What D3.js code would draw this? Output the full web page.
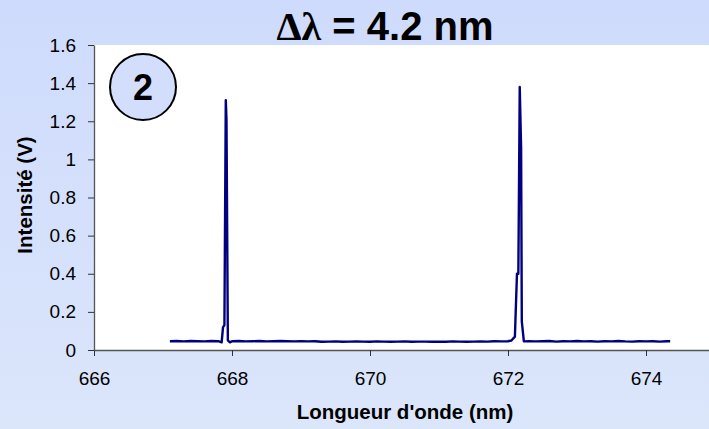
<!DOCTYPE html>
<html>
<head>
<meta charset="utf-8">
<script src="https://cdn.jsdelivr.net/npm/d3@7"></script>
<style>
  html, body { margin: 0; padding: 0; }
  body { width: 709px; height: 429px; overflow: hidden; }
  svg { display: block; font-family: "Liberation Sans", Arial, sans-serif; }
</style>
</head>
<body>
<svg id="chart" width="709" height="429"></svg>
<script>
// Spectrum: wavelength (nm) and intensity (V)
const wavelength = [
  667.10, 667.20, 667.30, 667.40, 667.50, 667.60, 667.70, 667.80,
  667.85, 667.87, 667.89, 667.91, 667.92, 667.94, 667.97,
  668.00, 668.10, 668.20, 668.30, 668.40, 668.50, 668.60, 668.70, 668.80, 668.90,
  669.00, 669.10, 669.20, 669.30, 669.40, 669.50, 669.60, 669.70, 669.80, 669.90,
  670.00, 670.10, 670.20, 670.30, 670.40, 670.50, 670.60, 670.70, 670.80, 670.90,
  671.00, 671.10, 671.20, 671.30, 671.40, 671.50, 671.60, 671.70, 671.80, 671.90,
  672.00, 672.05, 672.10, 672.13, 672.15, 672.17, 672.19, 672.20, 672.23,
  672.30, 672.40, 672.50, 672.60, 672.70, 672.80, 672.90,
  673.00, 673.10, 673.20, 673.30, 673.40, 673.50, 673.60, 673.70, 673.80, 673.90,
  674.00, 674.10, 674.20, 674.30, 674.35
];
const intensity = [
  0.046, 0.047, 0.045, 0.047, 0.046, 0.045, 0.047, 0.046,
  0.040, 0.120, 0.130, 1.310, 1.210, 0.050, 0.040,
  0.046, 0.047, 0.045, 0.046, 0.047, 0.045, 0.046, 0.047, 0.046, 0.045,
  0.046, 0.045, 0.046, 0.043, 0.044, 0.045, 0.043, 0.044, 0.045, 0.044,
  0.043, 0.045, 0.044, 0.043, 0.044, 0.045, 0.043, 0.044, 0.044, 0.043,
  0.044, 0.043, 0.045, 0.044, 0.043, 0.044, 0.045, 0.044, 0.046, 0.045,
  0.046, 0.050, 0.070, 0.400, 0.400, 1.380, 1.060, 0.150, 0.045,
  0.046, 0.045, 0.046, 0.047, 0.044, 0.046, 0.045,
  0.047, 0.045, 0.046, 0.044, 0.046, 0.045, 0.047, 0.045, 0.044, 0.046,
  0.045, 0.046, 0.044, 0.046, 0.046
];
const xTicks = [666, 668, 670, 672, 674];
const yTicks = [0, 0.2, 0.4, 0.6, 0.8, 1, 1.2, 1.4, 1.6];

const svg = d3.select('#chart');
const width = 709, height = 429;
const margin = { top: 45, left: 94, bottom: 79 };

// background gradient
const defs = svg.append('defs');
const grad = defs.append('linearGradient')
  .attr('id', 'bg').attr('x1', 0).attr('y1', 0).attr('x2', 0).attr('y2', 1);
grad.append('stop').attr('offset', '0%').attr('stop-color', '#cedbfc');
grad.append('stop').attr('offset', '100%').attr('stop-color', '#dbe6fb');
svg.append('rect').attr('width', width).attr('height', height).attr('fill', 'url(#bg)');

const xScale = d3.scaleLinear().domain([666, 676]).range([margin.left, margin.left + 690]);
const yScale = d3.scaleLinear().domain([0, 1.6]).range([height - margin.bottom, margin.top]);

// plot area
svg.append('rect')
  .attr('x', margin.left).attr('y', margin.top)
  .attr('width', width - margin.left).attr('height', yScale(0) - margin.top)
  .attr('fill', '#ffffff');

// spectrum line
const pts = wavelength.map((w, i) => [w, intensity[i]]);
svg.append('path')
  .datum(pts)
  .attr('fill', 'none')
  .attr('stroke', '#000080')
  .attr('stroke-width', 2.4)
  .attr('stroke-linejoin', 'round')
  .attr('d', d3.line().x(d => xScale(d[0])).y(d => yScale(d[1])));

// axes
const xAxis = svg.append('g')
  .attr('transform', `translate(0,${yScale(0)})`)
  .call(d3.axisBottom(xScale).tickValues(xTicks).tickSize(6).tickSizeOuter(0).tickPadding(16));
const yAxis = svg.append('g')
  .attr('transform', `translate(${margin.left},0)`)
  .call(d3.axisLeft(yScale).tickValues(yTicks).tickSize(6).tickSizeOuter(0).tickPadding(12).tickFormat(d3.format('')));
[xAxis, yAxis].forEach(a => {
  a.select('.domain').attr('stroke', '#555').attr('stroke-width', 1.3);
  a.selectAll('.tick line').attr('stroke', '#333');
  a.selectAll('.tick text')
    .attr('font-family', '"Liberation Sans", Arial, sans-serif')
    .attr('font-size', 19).attr('fill', '#000');
});

// axis titles
svg.append('text')
  .attr('x', 405).attr('y', 419)
  .attr('text-anchor', 'middle')
  .attr('font-size', 20.5).attr('font-weight', 'bold')
  .text("Longueur d'onde (nm)");
svg.append('text')
  .attr('transform', 'translate(32,195) rotate(-90)')
  .attr('text-anchor', 'middle')
  .attr('font-size', 20.5).attr('font-weight', 'bold')
  .text('Intensité (V)');

// title (greek letters in a serif face, as in the original)
const title = svg.append('text')
  .attr('x', 385).attr('y', 40)
  .attr('text-anchor', 'middle')
  .attr('font-size', 40).attr('font-weight', 'bold');
title.append('tspan').attr('font-family', '"Liberation Serif", "DejaVu Serif", serif').text('Δλ');
title.append('tspan').text(' = 4.2 nm');

// panel badge
svg.append('circle')
  .attr('cx', 143).attr('cy', 87).attr('r', 33)
  .attr('fill', '#d2defb').attr('stroke', '#000').attr('stroke-width', 2);
svg.append('text')
  .attr('x', 143).attr('y', 100)
  .attr('text-anchor', 'middle')
  .attr('font-size', 36).attr('font-weight', 'bold')
  .text('2');
</script>
</body>
</html>
